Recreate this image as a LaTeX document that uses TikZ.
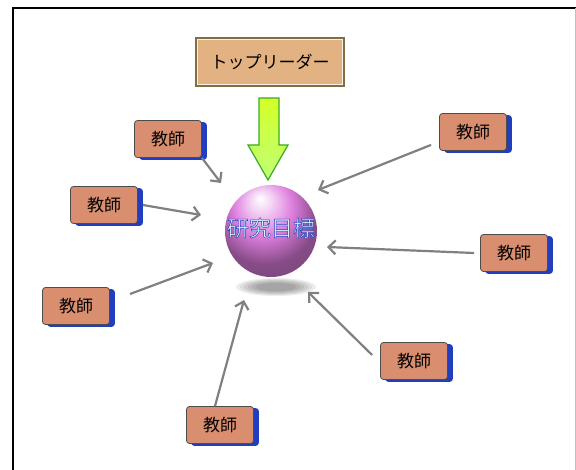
\documentclass[tikz,border=0pt]{standalone}
\usepackage{fontspec}
\newfontfamily\jpfont{Noto Sans CJK JP}
\usetikzlibrary{arrows.meta,shadows}

\definecolor{salmon}{RGB}{218,142,112}
\definecolor{bside}{RGB}{32,62,190}
\definecolor{tanbox}{RGB}{226,178,130}
\definecolor{tanedge}{RGB}{125,112,72}
\definecolor{linkgray}{RGB}{128,128,128}
\definecolor{lime}{RGB}{212,255,40}
\definecolor{limeedge}{RGB}{60,170,40}
\definecolor{orb}{RGB}{222,126,222}
\definecolor{glyph}{RGB}{215,245,255}

% pink sphere, light on top, darker band round the middle
\pgfdeclareradialshading{orbshade}{\pgfpoint{-6bp}{18bp}}{%
  color(0bp)=(white); color(6bp)=(orb!35!white); color(16bp)=(orb);
  color(28bp)=(orb!60!black); color(40bp)=(orb!55!black); color(50bp)=(orb!85!white); color(60bp)=(orb)}
% outlined glyphs: fill, then stroke in blue
\newcommand\outlined[1]{\special{pdf:code 2 Tr 0.12 0.25 0.75 RG 0.5 w}#1\special{pdf:code 0 Tr 0.4 w}}

\begin{document}
\begin{tikzpicture}[x=1pt,y=-1pt,every node/.style={font=\jpfont},
  teacher/.style={rounded corners=3pt,fill=salmon,draw=black!70,line width=.8pt,
    minimum width=67pt,minimum height=37pt,inner sep=0pt,font=\jpfont\fontsize{17}{17}\selectfont,
    copy shadow={shadow xshift=5pt,shadow yshift=-2pt,fill=bside,draw=bside}},
  leader/.style={fill=tanbox,draw=tanedge,line width=3pt,minimum width=147pt,
    minimum height=47pt,inner sep=0pt,font=\jpfont\fontsize{17}{17}\selectfont},
  link/.style={draw=linkgray,line width=2.2pt,-{Straight Barb[length=7pt,width=14pt]}}]
\useasboundingbox (0,0) rectangle (576,470);
% frame
\draw[line width=2pt] (13,472) -- (13,8) -- (577,8);
\draw[gray!50,line width=1pt] (575,8) -- (575,472);

% top leader and the big arrow
\node[leader] (lead) at (270,62) {トップリーダー};
\draw[white!80!tanbox,line width=1pt] ([shift={(2.5,2.5)}]lead.north west) rectangle ([shift={(-2.5,-2.5)}]lead.south east);
\path[draw=limeedge,line width=1.2pt,top color=lime,bottom color=lime!70!green!60]
  (259,98) -- (279,98) -- (279,145) -- (288,145) -- (268,180) -- (248,145) -- (259,145) -- cycle;

% teachers
\node[teacher] (t1) at (168,139) {教師};
\node[teacher] (t2) at (104,205) {教師};
\node[teacher] (t3) at (76,306) {教師};
\node[teacher] (t4) at (220,425) {教師};
\node[teacher] (t5) at (414,361) {教師};
\node[teacher] (t6) at (514,253) {教師};
\node[teacher] (t7) at (473,132) {教師};

\coordinate (e1) at (221,183);
\coordinate (e2) at (201,215);
\coordinate (e3) at (213,263);
\coordinate (e4) at (244,300);
\coordinate (e5) at (308,292);
\coordinate (e6) at (327,247);
\coordinate (e7) at (318,190);
\draw[link] (t1.south east) -- (e1);
\draw[link] ([xshift=5pt]t2.east) -- (e2);
\draw[link] ([shift={(54,-12)}]t3.center) -- (e3);
\draw[link] ([xshift=-5pt]t4.north) -- (e4);
\draw[link] ([shift={(-8,-6)}]t5.west) -- (e5);
\draw[link] ([xshift=-6pt]t6.west) -- (e6);
\draw[link] ([shift={(-8,-6)}]t7.south west) -- (e7);

% the goal sphere
\foreach \k in {1,...,6}
  \fill[black,opacity=.07] (276,287) ellipse ({44-4*\k} and {10-\k});
\node[circle,minimum size=92pt,inner sep=0pt] (ball) at (271,231) {};
\shade[shading=orbshade] (ball.center) circle (46);
\node[text=glyph,font=\jpfont\fontsize{22}{22}\selectfont] (goal) at (271,228) {\outlined{研究目標}};
\end{tikzpicture}
\end{document}
